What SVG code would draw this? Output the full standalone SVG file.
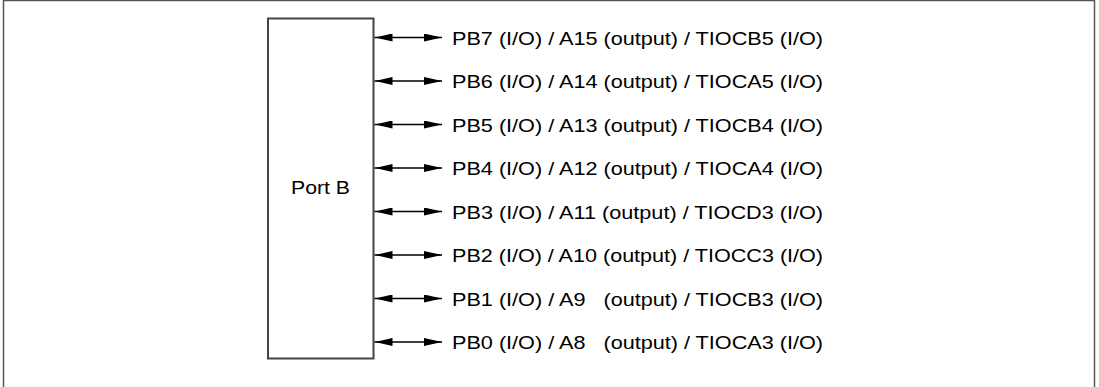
<svg xmlns="http://www.w3.org/2000/svg" width="1099" height="387" viewBox="0 0 1099 387">
<defs>
<marker id="ah" viewBox="0 0 18 8" refX="18" refY="4" markerWidth="18" markerHeight="8" markerUnits="userSpaceOnUse" orient="auto-start-reverse">
<path d="M0,0 L18,4 L0,8 z" fill="#000"/>
</marker>
<style>
.lbl{font-family:"Liberation Sans",Arial,sans-serif;font-size:19px;fill:#000}
.box{fill:#fff;stroke:#444;stroke-width:2}
.con{stroke:#000;stroke-width:1.3;fill:none;marker-start:url(#ah);marker-end:url(#ah)}
</style>
</defs>
<rect x="3.5" y="0.5" width="1091" height="400" fill="#fff" stroke="#555" stroke-width="1.5"/>
<g id="portB">
<rect class="box" x="268" y="18.5" width="105.5" height="340"/>
<text class="lbl" x="291" y="194" textLength="59" lengthAdjust="spacingAndGlyphs">Port B</text>
</g>
<g id="connectors">
<line class="con" x1="374.5" y1="37.5" x2="442" y2="37.5"/>
<line class="con" x1="374.5" y1="81" x2="442" y2="81"/>
<line class="con" x1="374.5" y1="124.5" x2="442" y2="124.5"/>
<line class="con" x1="374.5" y1="168" x2="442" y2="168"/>
<line class="con" x1="374.5" y1="211.5" x2="442" y2="211.5"/>
<line class="con" x1="374.5" y1="255" x2="442" y2="255"/>
<line class="con" x1="374.5" y1="298.5" x2="442" y2="298.5"/>
<line class="con" x1="374.5" y1="342" x2="442" y2="342"/>
</g>
<g id="labels">
<text class="lbl" x="452" y="44.5" textLength="371" lengthAdjust="spacingAndGlyphs">PB7 (I/O) / A15 (output) / TIOCB5 (I/O)</text>
<text class="lbl" x="452" y="88" textLength="371" lengthAdjust="spacingAndGlyphs">PB6 (I/O) / A14 (output) / TIOCA5 (I/O)</text>
<text class="lbl" x="452" y="131.5" textLength="371" lengthAdjust="spacingAndGlyphs">PB5 (I/O) / A13 (output) / TIOCB4 (I/O)</text>
<text class="lbl" x="452" y="175" textLength="371" lengthAdjust="spacingAndGlyphs">PB4 (I/O) / A12 (output) / TIOCA4 (I/O)</text>
<text class="lbl" x="452" y="218.5" textLength="371" lengthAdjust="spacingAndGlyphs">PB3 (I/O) / A11 (output) / TIOCD3 (I/O)</text>
<text class="lbl" x="452" y="262" textLength="371" lengthAdjust="spacingAndGlyphs">PB2 (I/O) / A10 (output) / TIOCC3 (I/O)</text>
<text class="lbl" x="452" y="305.5" textLength="371" lengthAdjust="spacingAndGlyphs" xml:space="preserve">PB1 (I/O) / A9   (output) / TIOCB3 (I/O)</text>
<text class="lbl" x="452" y="349" textLength="371" lengthAdjust="spacingAndGlyphs" xml:space="preserve">PB0 (I/O) / A8   (output) / TIOCA3 (I/O)</text>
</g>
</svg>
